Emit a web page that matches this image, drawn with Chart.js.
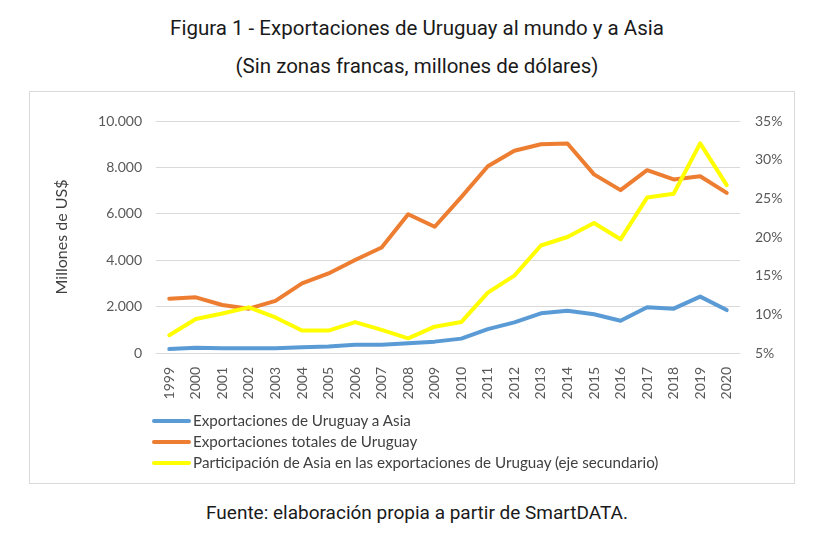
<!DOCTYPE html>
<html>
<head>
<meta charset="utf-8">
<script src="https://cdn.jsdelivr.net/npm/chart.js@4.4.1/dist/chart.umd.min.js"></script>
<style>
  body { margin: 0; background: #fff; width: 834px; height: 541px; position: relative; overflow: hidden; font-family: Roboto, "Liberation Sans", sans-serif; }
  .title { position: absolute; left: 0; width: 834px; text-align: center; color: #1a1a1a; font-size: 20.5px; }
  #box { position: absolute; left: 29px; top: 91px; width: 764px; height: 391px; border: 1px solid #d9d9d9; }
  #chartWrap { position: absolute; left: 29px; top: 91px; width: 765px; height: 320px; }
  #legend { position: absolute; left: 152px; top: 410px; font-family: Lato, sans-serif; font-size: 15.2px; color: #404040; }
  .item { height: 21px; line-height: 21px; display: flex; align-items: center; }
  .swatch { width: 39px; height: 4px; margin-right: 2px; border-radius: 2px; }
  #source { position: absolute; left: 0; width: 834px; top: 501px; text-align: center; font-size: 19px; color: #1a1a1a; }
</style>
</head>
<body>
<div class="title" style="top: 16px;">Figura 1 - Exportaciones de Uruguay al mundo y a Asia</div>
<div class="title" style="top: 54px;">(Sin zonas francas, millones de dólares)</div>
<div id="box"></div>
<div id="chartWrap"><canvas id="myChart"></canvas></div>
<div id="legend"></div>
<div id="source">Fuente: elaboración propia a partir de SmartDATA.</div>
<script>
// years on the x axis
const years = ["1999", "2000", "2001", "2002", "2003", "2004", "2005", "2006", "2007", "2008", "2009",
  "2010", "2011", "2012", "2013", "2014", "2015", "2016", "2017", "2018", "2019", "2020"];

// millones de US$
const asiaExports = [170, 230, 200, 200, 210, 245, 285, 360, 360, 415, 490,
  620, 1030, 1320, 1710, 1820, 1670, 1390, 1970, 1910, 2430, 1850];
const totalExports = [2340, 2400, 2070, 1910, 2250, 3000, 3430, 4010, 4550, 5980, 5440,
  6720, 8050, 8720, 9000, 9030, 7700, 7020, 7880, 7480, 7620, 6900];

// share of Asia (secondary axis)
const asiaShare = [0.073, 0.094, 0.101, 0.109, 0.096, 0.079, 0.079, 0.090, 0.080, 0.069, 0.084,
  0.090, 0.128, 0.150, 0.189, 0.200, 0.218, 0.197, 0.251, 0.256, 0.321, 0.267];

const seriesNames = [
  "Exportaciones de Uruguay a Asia",
  "Exportaciones totales de Uruguay",
  "Participación de Asia en las exportaciones de Uruguay (eje secundario)"
];
const seriesColors = ["#5B9BD5", "#ED7D31", "#FFFF00"];

const tickColor = "#595959";
const gridColor = "#d9d9d9";

function lineSet(label, data, color, axis, order) {
  return {
    label: label,
    data: data,
    borderColor: color,
    backgroundColor: color,
    borderWidth: 4,
    pointRadius: 0,
    tension: 0,
    fill: false,
    borderJoinStyle: "round",
    borderCapStyle: "round",
    yAxisID: axis,
    order: order
  };
}

const graphData = {
  labels: years,
  datasets: [
    lineSet(seriesNames[0], asiaExports, seriesColors[0], "y", 2),
    lineSet(seriesNames[1], totalExports, seriesColors[1], "y", 1),
    lineSet(seriesNames[2], asiaShare, seriesColors[2], "y1", 0)
  ]
};

const tickFont = { family: "Lato", size: 14 };

const graphOptions = {
  responsive: true,
  maintainAspectRatio: false,
  animation: false,
  layout: { padding: { top: 30, left: 23, right: 0, bottom: 0 } },
  plugins: { legend: { display: false }, tooltip: { enabled: false } },
  scales: {
    x: {
      offset: true,
      grid: { display: false },
      border: { display: false },
      ticks: { color: tickColor, font: tickFont, maxRotation: 90, minRotation: 90, autoSkip: false, padding: 6 },
      afterFit: (scale) => { scale.height = 58; }
    },
    y: {
      position: "left",
      min: 0,
      max: 10000,
      ticks: {
        stepSize: 2000,
        color: tickColor,
        font: tickFont,
        padding: 14,
        callback: (v) => v.toLocaleString("de-DE")
      },
      grid: { color: gridColor, drawTicks: false },
      border: { display: false },
      title: { display: true, text: "Millones de US$", color: "#404040", font: { family: "Lato", size: 16 }, padding: 0 },
      afterFit: (scale) => { scale.width = 104; }
    },
    y1: {
      position: "right",
      min: 0.05,
      max: 0.35,
      ticks: {
        stepSize: 0.05,
        color: tickColor,
        font: tickFont,
        padding: 15,
        callback: (v) => Math.round(v * 100) + "%"
      },
      grid: { display: false, drawTicks: false },
      border: { display: false },
      afterFit: (scale) => { scale.width = 54; }
    }
  }
};

const ctx = document.getElementById("myChart").getContext("2d");
const chart = new Chart(ctx, { type: "line", data: graphData, options: graphOptions });

// legend stacked vertically like the original
const legendDiv = document.getElementById("legend");
seriesNames.forEach((name, i) => {
  const row = document.createElement("div");
  row.className = "item";
  row.innerHTML = '<span class="swatch" style="background:' + seriesColors[i] + '"></span><span>' + name + '</span>';
  legendDiv.appendChild(row);
});
</script>
</body>
</html>
